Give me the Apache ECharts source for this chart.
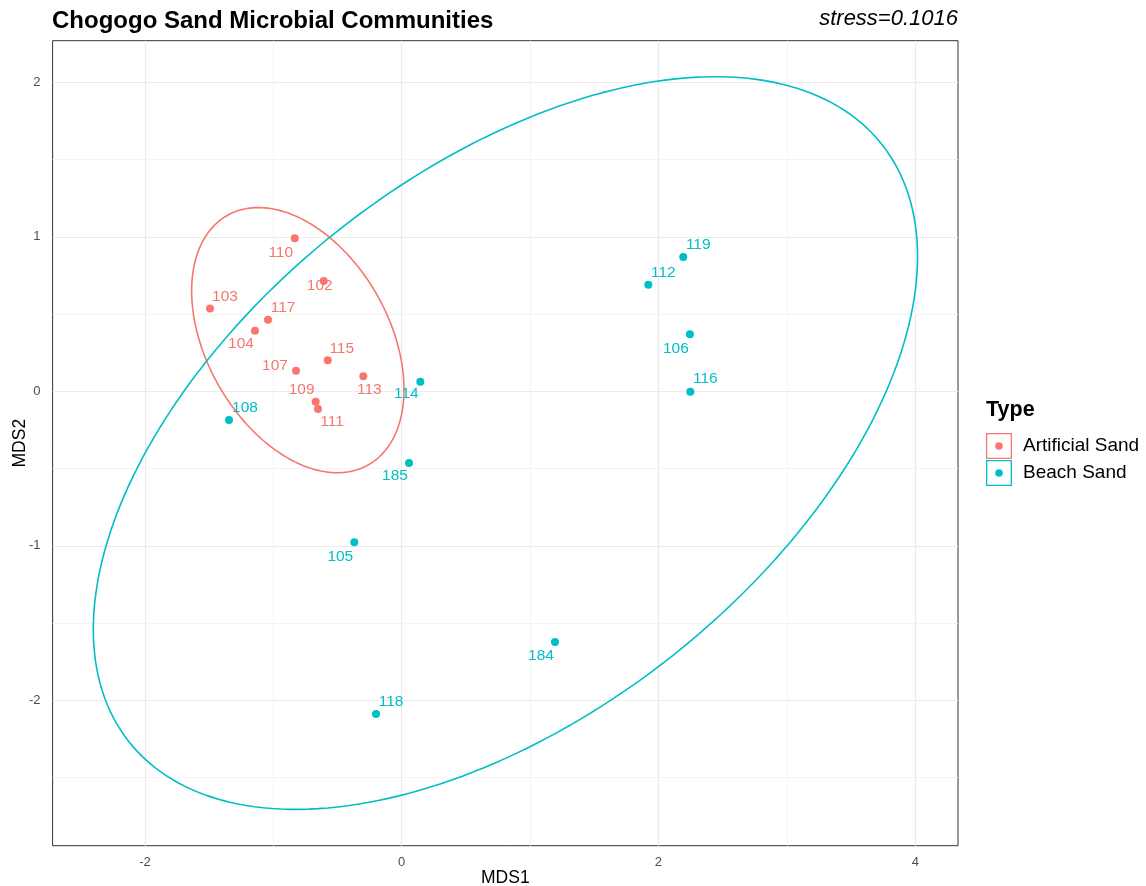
<!DOCTYPE html>
<html>
<head>
<meta charset="utf-8">
<title>Chogogo Sand Microbial Communities</title>
<script src="https://cdn.jsdelivr.net/npm/echarts@6/dist/echarts.min.js"></script>
<style>
  html, body { margin: 0; padding: 0; background: #fff; }
  #chart { width: 1146px; height: 886px; }
</style>
</head>
<body>
<div id="chart"></div>
<script>
// NMDS site scores (MDS1, MDS2) per sample, grouped by sand type
const artificialIds  = ['110', '102', '103', '117', '104', '115', '107', '113', '109', '111'];
const artificialMDS1 = [-0.833, -0.607, -1.493, -1.041, -1.143, -0.576, -0.823, -0.299, -0.670, -0.652];
const artificialMDS2 = [0.990, 0.714, 0.535, 0.463, 0.392, 0.201, 0.133, 0.097, -0.067, -0.115];

const beachIds  = ['114', '108', '185', '105', '119', '112', '106', '116', '184', '118'];
const beachMDS1 = [0.145, -1.345, 0.057, -0.369, 2.193, 1.921, 2.245, 2.248, 1.194, -0.200];
const beachMDS2 = [0.062, -0.186, -0.464, -0.977, 0.869, 0.690, 0.369, -0.003, -1.623, -2.089];

// 95% confidence ellipses per group: [centre MDS1, centre MDS2, half-range MDS1, half-range MDS2, phase (deg)]
const artificialEllipse = [-0.809, 0.331, 0.827, 0.858, 111.8];
const beachEllipse      = [0.808, -0.335, 3.210, 2.371, 59.4];

const groupNames = ['Artificial Sand', 'Beach Sand'];
const stressValue = 0.1016;

// Axis breaks
const xBreaks = [-2, 0, 2, 4];
const xMinorBreaks = [-1, 1, 3];
const yBreaks = [-2, -1, 0, 1, 2];
const yMinorBreaks = [-2.5, -1.5, -0.5, 0.5, 1.5];

// ---- layout / style ----
const COLORS = ['#F8766D', '#00BFC4'];
const FONT = '"Liberation Sans", Arial, Helvetica, sans-serif';
const X_RANGE = [-2.719, 4.333];
const Y_RANGE = [-2.941, 2.269];

// label nudges (px) for each sample id, keeps text clear of the points
const labelNudge = {
  '110': [-14, 14], '102': [-4, 5], '103': [15, -12], '117': [15, -12], '104': [-14, 13],
  '115': [14, -12], '107': [-21, -5], '113': [6, 13], '109': [-14, -12], '111': [14, 13],
  '114': [-14, 12], '108': [16, -12], '185': [-14, 13], '105': [-14, 14], '119': [15, -12],
  '112': [15, -12], '106': [-14, 14], '116': [15, -13], '184': [-14, 14], '118': [15, -12]
};

// trace an ellipse: x = cx + a cos t, y = cy + b cos(t - phase)
function ellipsePath(e, segments) {
  const [cx, cy, a, b, phaseDeg] = e;
  const ph = phaseDeg * Math.PI / 180;
  const pts = [];
  for (let k = 0; k <= segments; k++) {
    const t = k * 2 * Math.PI / segments;
    pts.push([cx + a * Math.cos(t), cy + b * Math.cos(t - ph)]);
  }
  return pts;
}

function scatterData(ids, xs, ys) {
  return ids.map((id, i) => ({
    name: id,
    value: [xs[i], ys[i]],
    label: { offset: labelNudge[id] }
  }));
}

const groups = [
  { ids: artificialIds, xs: artificialMDS1, ys: artificialMDS2, ellipse: artificialEllipse },
  { ids: beachIds, xs: beachMDS1, ys: beachMDS2, ellipse: beachEllipse }
];

// legend key: outlined square with a dot in the middle
const keyIcon = 'path://M0,0H26V26H0Z M1.3,1.3V24.7H24.7V1.3Z M13,9.2A3.8,3.8 0 1 1 13,16.8A3.8,3.8 0 1 1 13,9.2Z';

const minorStyle = { color: '#f4f4f4', width: 1, type: 'solid' };
const majorStyle = { color: '#ebebeb', width: 1.2, type: 'solid' };
const gridLineData = []
  .concat(xMinorBreaks.map(v => ({ xAxis: v, lineStyle: minorStyle })))
  .concat(yMinorBreaks.map(v => ({ yAxis: v, lineStyle: minorStyle })))
  .concat(xBreaks.map(v => ({ xAxis: v, lineStyle: majorStyle })))
  .concat(yBreaks.map(v => ({ yAxis: v, lineStyle: majorStyle })));

const series = [{
  name: 'panel-grid',
  type: 'line',
  data: [],
  silent: true,
  z: 1,
  markLine: {
    z: 1,
    silent: true,
    symbol: ['none', 'none'],
    symbolSize: 0,
    label: { show: false },
    emphasis: { disabled: true },
    lineStyle: { type: 'solid' },
    animation: false,
    data: gridLineData
  }
}];

groups.forEach((g, gi) => {
  series.push({
    name: groupNames[gi] + ' ellipse',
    type: 'line',
    data: ellipsePath(g.ellipse, 240),
    showSymbol: false,
    symbol: 'none',
    smooth: false,
    silent: true,
    z: 3,
    lineStyle: { color: COLORS[gi], width: 1.6 }
  });
});

groups.forEach((g, gi) => {
  series.push({
    name: groupNames[gi],
    type: 'scatter',
    data: scatterData(g.ids, g.xs, g.ys),
    symbol: 'circle',
    symbolSize: 8,
    z: 4,
    itemStyle: { color: COLORS[gi], opacity: 1 },
    label: {
      show: true,
      position: 'inside',
      formatter: '{b}',
      color: COLORS[gi],
      fontFamily: FONT,
      fontSize: 15.5
    }
  });
});

const chart = echarts.init(document.getElementById('chart'), null, { renderer: 'canvas' });
chart.setOption({
  animation: false,
  backgroundColor: '#ffffff',
  title: [
    {
      text: 'Chogogo Sand Microbial Communities',
      left: 52, top: 9, padding: 0,
      textStyle: { fontFamily: FONT, fontSize: 24, fontWeight: 'bold', color: '#000' }
    },
    {
      text: 'stress=' + stressValue,
      right: 188, top: 8, padding: 0,
      textStyle: { fontFamily: FONT, fontSize: 22, fontStyle: 'italic', fontWeight: 'normal', color: '#000' }
    },
    {
      text: 'Type',
      left: 986, top: 399, padding: 0,
      textStyle: { fontFamily: FONT, fontSize: 21.5, fontWeight: 'bold', color: '#000' }
    }
  ],
  legend: {
    data: groupNames.map(n => ({ name: n, icon: keyIcon })),
    orient: 'vertical',
    left: 986, top: 433,
    padding: 0,
    itemWidth: 26, itemHeight: 26, itemGap: 1,
    selectedMode: false,
    textStyle: { fontFamily: FONT, fontSize: 19, color: '#000', padding: [0, 0, 0, 6] }
  },
  grid: {
    left: 52.6, right: 188, top: 40.7, bottom: 40.3,
    show: true, borderColor: '#333333', borderWidth: 1, backgroundColor: '#ffffff',
    containLabel: false,
    outerBoundsMode: 'none'
  },
  xAxis: {
    type: 'value',
    min: X_RANGE[0], max: X_RANGE[1],
    name: 'MDS1', nameLocation: 'middle', nameGap: 23, nameMoveOverlap: false,
    nameTextStyle: { fontFamily: FONT, fontSize: 17.5, color: '#000' },
    axisLine: { show: false },
    axisTick: { show: true, customValues: xBreaks, length: 4, lineStyle: { color: '#333333' } },
    axisLabel: { customValues: xBreaks, fontFamily: FONT, fontSize: 13, color: '#4d4d4d', margin: 10 },
    splitLine: { show: false }
  },
  yAxis: {
    type: 'value',
    min: Y_RANGE[0], max: Y_RANGE[1],
    name: 'MDS2', nameLocation: 'middle', nameGap: 23, nameRotate: 90, nameMoveOverlap: false,
    nameTextStyle: { fontFamily: FONT, fontSize: 17.5, color: '#000' },
    axisLine: { show: false },
    axisTick: { show: true, customValues: yBreaks, length: 4, lineStyle: { color: '#333333' } },
    axisLabel: { customValues: yBreaks, fontFamily: FONT, fontSize: 13, color: '#4d4d4d', margin: 12 },
    splitLine: { show: false }
  },
  series: series
});
</script>
</body>
</html>
